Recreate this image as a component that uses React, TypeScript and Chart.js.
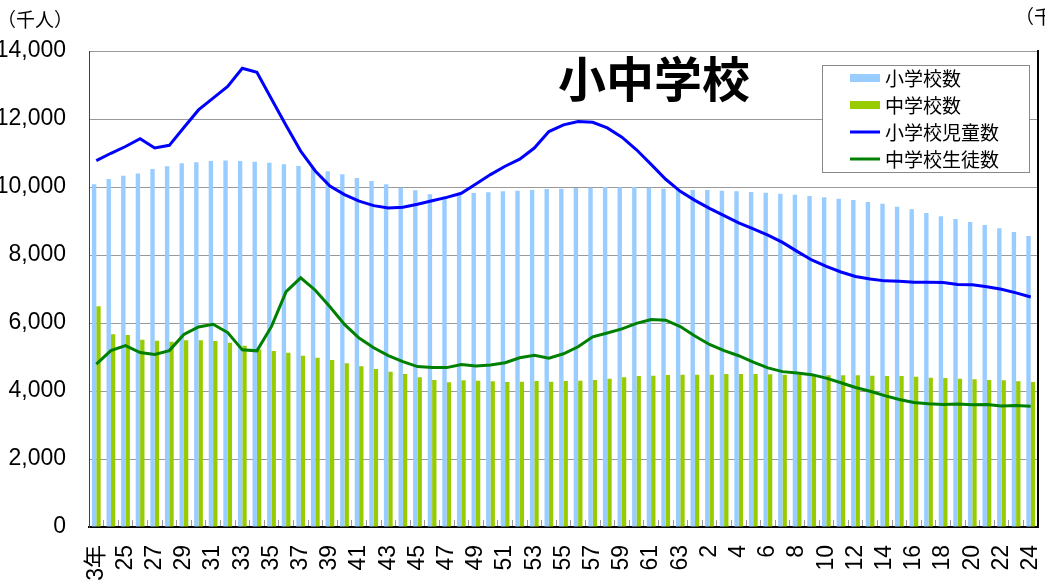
import React, { useEffect, useRef } from "react";
import { Chart, registerables } from "chart.js";

Chart.register(...registerables);

// 年度（昭和23年〜昭和63年, 平成元年〜平成24年）
const yearLabels = [
  "23年", "24", "25", "26", "27", "28", "29", "30", "31", "32",
  "33", "34", "35", "36", "37", "38", "39", "40", "41", "42",
  "43", "44", "45", "46", "47", "48", "49", "50", "51", "52",
  "53", "54", "55", "56", "57", "58", "59", "60", "61", "62",
  "63", "元", "2", "3", "4", "5", "6", "7", "8", "9",
  "10", "11", "12", "13", "14", "15", "16", "17", "18", "19",
  "20", "21", "22", "23", "24",
];

// 小学校数（千校）
const elementarySchools = [
  25.2, 25.59, 25.83, 26.0, 26.32, 26.52, 26.74, 26.82, 26.91, 26.94,
  26.91, 26.86, 26.79, 26.67, 26.55, 26.4, 26.15, 25.93, 25.66, 25.44,
  25.2, 24.95, 24.76, 24.46, 24.3, 24.45, 24.56, 24.61, 24.68, 24.73,
  24.78, 24.85, 24.88, 24.93, 24.95, 25.0, 24.98, 25.0, 24.95, 24.88,
  24.8, 24.78, 24.78, 24.73, 24.68, 24.63, 24.58, 24.51, 24.43, 24.34,
  24.24, 24.14, 24.04, 23.9, 23.77, 23.55, 23.36, 23.09, 22.85, 22.65,
  22.43, 22.21, 21.96, 21.69, 21.4,
];

// 中学校数（千校）
const juniorSchools = [
  16.23, 14.17, 14.12, 13.77, 13.7, 13.63, 13.73, 13.73, 13.68, 13.55,
  13.33, 13.05, 12.94, 12.82, 12.6, 12.45, 12.28, 12.04, 11.82, 11.62,
  11.42, 11.25, 11.01, 10.81, 10.64, 10.79, 10.76, 10.71, 10.66, 10.68,
  10.74, 10.68, 10.74, 10.76, 10.81, 10.9, 11.01, 11.1, 11.13, 11.18,
  11.2, 11.2, 11.2, 11.25, 11.25, 11.25, 11.23, 11.2, 11.2, 11.18,
  11.15, 11.15, 11.15, 11.13, 11.1, 11.1, 11.05, 10.98, 10.96, 10.9,
  10.86, 10.81, 10.79, 10.71, 10.66,
];

// 小学校児童数（千人）
const elementaryStudents = [
  10775, 10992, 11191, 11423, 11148, 11225, 11750, 12267, 12616, 12956,
  13492, 13375, 12591, 11811, 11057, 10471, 10031, 9775, 9584, 9452,
  9383, 9404, 9493, 9595, 9696, 9816, 10089, 10365, 10610, 10819,
  11146, 11630, 11827, 11925, 11902, 11739, 11465, 11095, 10665, 10227,
  9873, 9607, 9373, 9157, 8947, 8769, 8583, 8370, 8106, 7855,
  7664, 7500, 7366, 7297, 7239, 7227, 7201, 7197, 7188, 7133,
  7122, 7064, 6993, 6887, 6765,
];

// 中学校生徒数（千人）
const juniorStudents = [
  4793, 5186, 5333, 5130, 5077, 5188, 5664, 5884, 5963, 5719,
  5210, 5181, 5900, 6925, 7329, 6964, 6476, 5957, 5556, 5271,
  5043, 4865, 4717, 4694, 4688, 4780, 4735, 4762, 4833, 4978,
  5048, 4966, 5094, 5300, 5594, 5707, 5828, 5990, 6105, 6082,
  5896, 5619, 5369, 5188, 5037, 4850, 4681, 4570, 4527, 4481,
  4380, 4244, 4104, 3992, 3863, 3748, 3664, 3626, 3602, 3615,
  3592, 3600, 3558, 3573, 3552,
];

const seriesNames = ["小学校数", "中学校数", "小学校児童数", "中学校生徒数"];
const seriesColors = ["#99CCFF", "#99CC00", "#0000FF", "#008000"];
const chartTitle = "小中学校";
const leftUnit = "（千人）";
const rightUnit = "（千校）";

const LATIN = "'Liberation Sans', Arial, 'Noto Sans CJK JP', sans-serif";
const JP = "'Noto Sans CJK JP', 'Liberation Sans', sans-serif";

const overlayPlugin = {
  id: "overlay",
  afterDraw(chart: any) {
    const { ctx, chartArea } = chart;
    ctx.save();
    // title
    ctx.fillStyle = "#000";
    ctx.font = `bold 48px ${JP}`;
    ctx.textAlign = "center";
    ctx.textBaseline = "middle";
    ctx.fillText(chartTitle, chartArea.left + 565, chartArea.top + 28);
    // axis units
    ctx.font = `19px ${JP}`;
    ctx.textAlign = "center";
    ctx.fillText(leftUnit, chartArea.left - 54, chartArea.top - 31);
    ctx.textAlign = "left";
    ctx.fillText(rightUnit, chartArea.right - 23, chartArea.top - 34);

    // legend
    const bx = chartArea.right - 216;
    const by = chartArea.top + 14;
    const bw = 207;
    const bh = 107;
    ctx.fillStyle = "#fff";
    ctx.fillRect(bx, by, bw, bh);
    ctx.strokeStyle = "#888";
    ctx.lineWidth = 1;
    ctx.strokeRect(bx + 0.5, by + 0.5, bw, bh);
    const rows = [13, 40, 67, 94];
    ctx.font = `19px ${JP}`;
    ctx.textBaseline = "middle";
    ctx.textAlign = "left";
    chart.data.datasets.forEach((ds: any, i: number) => {
      const cy = by + rows[i];
      if (ds.type === "line") {
        ctx.strokeStyle = ds.borderColor;
        ctx.lineWidth = 3;
        ctx.beginPath();
        ctx.moveTo(bx + 28, cy);
        ctx.lineTo(bx + 58, cy);
        ctx.stroke();
      } else {
        ctx.fillStyle = ds.backgroundColor;
        ctx.fillRect(bx + 28, cy - 4, 30, 8);
      }
      ctx.fillStyle = "#000";
      ctx.fillText(ds.label, bx + 63, cy + 1);
    });
    ctx.restore();
  },
};

export default function App() {
  const ref = useRef<HTMLCanvasElement | null>(null);

  useEffect(() => {
    if (!ref.current) return;
    const chart = new Chart(ref.current, {
      type: "bar",
      data: {
        labels: yearLabels,
        datasets: [
          {
            type: "bar",
            label: seriesNames[0],
            data: elementarySchools,
            backgroundColor: seriesColors[0],
            yAxisID: "y1",
            order: 2,
            categoryPercentage: 0.6,
            barPercentage: 1.0,
          },
          {
            type: "bar",
            label: seriesNames[1],
            data: juniorSchools,
            backgroundColor: seriesColors[1],
            yAxisID: "y1",
            order: 2,
            categoryPercentage: 0.6,
            barPercentage: 1.0,
          },
          {
            type: "line",
            label: seriesNames[2],
            data: elementaryStudents,
            borderColor: seriesColors[2],
            backgroundColor: seriesColors[2],
            borderWidth: 3,
            pointRadius: 0,
            tension: 0,
            yAxisID: "y",
            order: 1,
          },
          {
            type: "line",
            label: seriesNames[3],
            data: juniorStudents,
            borderColor: seriesColors[3],
            backgroundColor: seriesColors[3],
            borderWidth: 3,
            pointRadius: 0,
            tension: 0,
            yAxisID: "y",
            order: 1,
          },
        ] as any,
      },
      options: {
        responsive: false,
        animation: false,
        layout: { padding: { left: 10, right: 10, top: 51, bottom: 3 } },
        plugins: {
          legend: { display: false },
          title: { display: false },
          tooltip: { enabled: false },
        },
        scales: {
          x: {
            offset: true,
            grid: {
              display: true,
              drawOnChartArea: false,
              drawTicks: true,
              tickLength: -7,
              color: "#999",
              offset: true,
            },
            border: { display: true, color: "#000", width: 2 },
            ticks: {
              autoSkip: false,
              minRotation: 90,
              maxRotation: 90,
              padding: 25,
              color: "#000",
              font: { size: 23, family: LATIN },
              callback: (_v: any, i: number) => (i % 2 === 0 ? yearLabels[i] : ""),
            },
            afterFit: (s: any) => {
              s.height = 80;
            },
          },
          y: {
            position: "left",
            min: 0,
            max: 14000,
            ticks: {
              stepSize: 2000,
              padding: 23,
              color: "#000",
              font: { size: 23, family: LATIN },
              callback: (v: any) => Number(v).toLocaleString("en-US"),
            },
            grid: { color: "#999", drawTicks: false },
            border: { display: true, color: "#404040", width: 1 },
            afterFit: (s: any) => {
              s.width = 91;
            },
          },
          y1: {
            position: "right",
            min: 0,
            max: 35,
            ticks: {
              stepSize: 5,
              padding: 10,
              color: "#000",
              font: { size: 23, family: LATIN },
            },
            grid: { drawOnChartArea: false, drawTicks: false },
            border: { display: true, color: "#000", width: 2 },
            afterFit: (s: any) => {
              s.width = 60;
            },
          },
        },
      } as any,
      plugins: [overlayPlugin],
    });
    return () => chart.destroy();
  }, []);

  return (
    <div
      style={{
        position: "fixed",
        left: 0,
        top: 0,
        width: 1045,
        height: 580,
        overflow: "hidden",
        background: "#fff",
      }}
    >
      <canvas
        ref={ref}
        width={1120}
        height={610}
        style={{ position: "absolute", left: -12, top: 0, width: 1120, height: 610 }}
      />
    </div>
  );
}
